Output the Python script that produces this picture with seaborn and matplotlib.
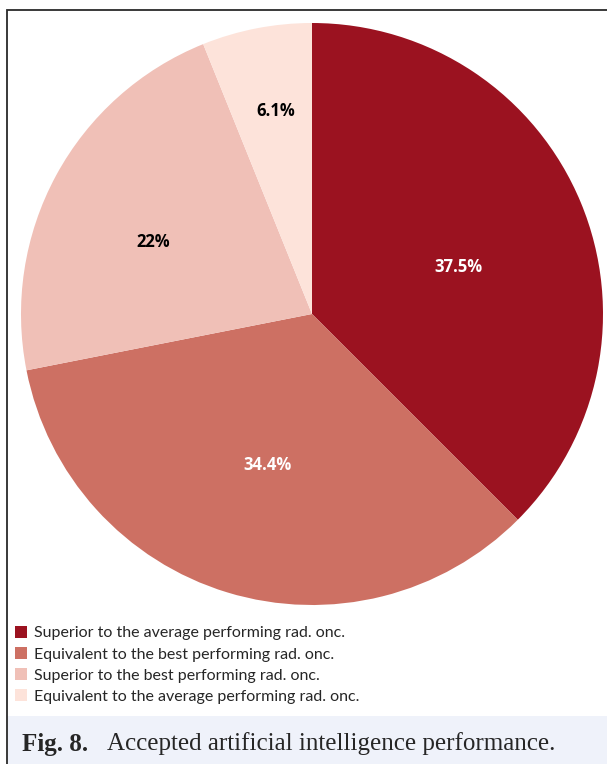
# Accepted AI performance pie chart
import numpy as np
import seaborn as sns
import matplotlib.pyplot as plt
from matplotlib.patches import Rectangle

# =========================
# Data
# =========================
categories = [
    "Superior to the average performing rad. onc.",
    "Equivalent to the best performing rad. onc.",
    "Superior to the best performing rad. onc.",
    "Equivalent to the average performing rad. onc.",
]
shares = [37.5, 34.4, 22.0, 6.1]
pct_labels = ["37.5%", "34.4%", "22%", "6.1%"]
colors = ["#9B1220", "#CD7063", "#F0C0B7", "#FDE3DA"]
label_colors = ["white", "white", "black", "black"]
# label placement (fraction of radius, angle nudge in degrees)
label_dist = [0.53, 0.54, 0.60, 0.71]
label_nudge = [-4.7, 0.4, 4.0, -1.0]

sns.set_theme(style="white")
plt.rcParams["font.family"] = ["Lato", "DejaVu Sans"]

W, H = 607, 764
fig = plt.figure(figsize=(W / 100, H / 100), dpi=100)

# frame + caption band
fig.add_artist(Rectangle((7 / W, -0.1), 1.2, (H - 10) / H + 0.1,
                         transform=fig.transFigure, fill=False,
                         edgecolor="#2a2a2a", linewidth=1.3))
fig.add_artist(Rectangle((8 / W, 0), 1.0, 48 / H,
                         transform=fig.transFigure, facecolor="#EFF2FA",
                         edgecolor="none"))

# pie
cx, cy, R = 312, 314, 291
ax = fig.add_axes([(cx - R) / W, (H - cy - R) / H, 2 * R / W, 2 * R / H])
wedges, _ = ax.pie(shares, colors=colors, startangle=90, counterclock=False,
                   radius=1, wedgeprops=dict(linewidth=0))
ax.set_xlim(-1, 1)
ax.set_ylim(-1, 1)
ax.set_aspect("equal")
ax.axis("off")

for w, lab, c, d, n in zip(wedges, pct_labels, label_colors, label_dist, label_nudge):
    mid = np.deg2rad((w.theta1 + w.theta2) / 2 + n)
    ax.text(d * np.cos(mid), d * np.sin(mid), lab, ha="center", va="center",
            color=c, fontsize=12, fontweight="bold", family="Open Sans")

# legend
fig.legend(wedges, categories, loc="upper left",
           bbox_to_anchor=(15 / W, 1 - 626 / H), frameon=False,
           fontsize=11.5, handlelength=0.75, handleheight=0.75,
           handletextpad=0.45, labelspacing=0.42, borderpad=0,
           borderaxespad=0)

# caption
fig.text(22 / W, 1 - 744 / H, "Fig. 8.", family="Liberation Serif",
         fontweight="bold", fontsize=18, va="center", ha="left")
fig.text(107 / W, 1 - 744 / H, "Accepted artificial intelligence performance.",
         family="Liberation Serif", fontsize=18, va="center", ha="left")

fig.savefig("out.png", dpi=100)
